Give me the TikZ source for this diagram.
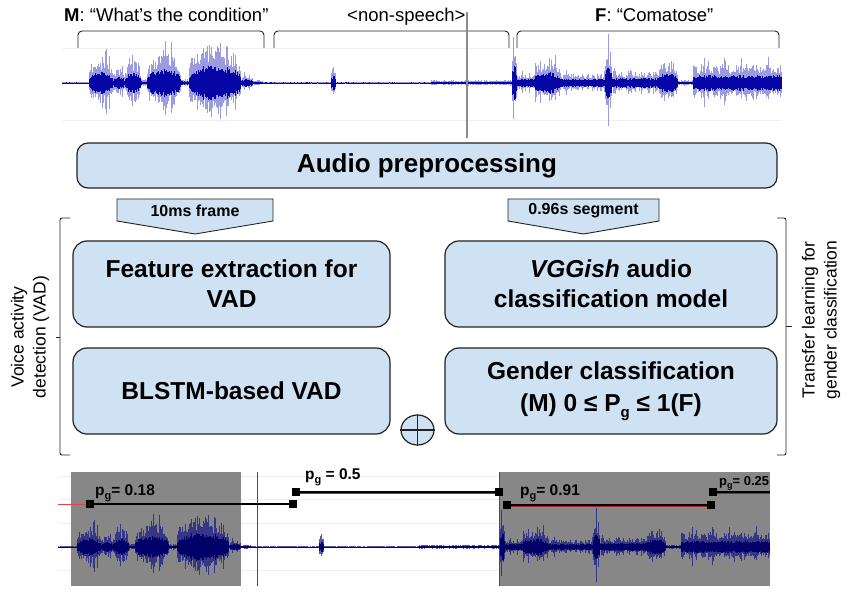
\documentclass[tikz,border=0pt]{standalone}
\usepackage{fontspec}
\setmainfont{Liberation Sans}
\usetikzlibrary{shapes.geometric}
\definecolor{boxblue}{HTML}{CFE2F3}
\definecolor{edgec}{HTML}{222222}
\definecolor{wavelight}{HTML}{4848C8}
\definecolor{wavedark}{HTML}{0606A6}
\definecolor{botlight}{HTML}{14148A}
\definecolor{botdark}{HTML}{000068}
\definecolor{grayfill}{HTML}{878787}
\definecolor{gridc}{HTML}{EFEFEF}
\definecolor{redc}{HTML}{E04545}
\definecolor{darkred}{HTML}{A02828}

\newcommand\fs[2]{\fontsize{#1}{#2}\selectfont}
\newcommand\subg[2]{\raisebox{-0.5ex}{\fontsize{#1}{#1}\selectfont #2}}

\newcommand\wavesegs{62/88/1.2/0, 89/112/20/1, 113/124/11/1, 125/140/19/1, 141/146/4/0, 147/180/24/1, 181/188/4/0, 189/240/32/1, 241/252/7/1, 253/262/3/0, 263/330/1.2/0, 331/335/13/1, 336/430/1.2/0, 431/497/2.8/0, 498/511/3/0, 512/516/30/1, 517/532/7/2, 533/560/19/1, 561/604/7/2, 605/611/30/1, 612/656/9/2, 657/677/18/1, 678/692/3/0, 693/781/14/2}

\newcommand\drawwave[2]{%
  \pgfmathsetseed{12345}%
  \foreach \a/\b/\amp/\spk in \wavesegs {%
    \foreach \x in {\a,...,\b} {%
      \pgfmathsetmacro\env{ifthenelse(\spk==1, 0.3+0.7*sqrt(sin(180/(\b-\a+1)*(\x-\a+0.5))), 1)*ifthenelse(\spk>0,1.3,1)}%
      \pgfmathsetmacro\u{\amp*\env*(0.45+0.55*rnd)*ifthenelse(and(\spk>0,rnd<0.2),1.45,1)}%
      \pgfmathsetmacro\v{\u*(0.6+0.4*rnd)}%
      \draw[#1] (\x,-\u) -- (\x,\v);%
      \pgfmathsetmacro\w{\amp*\env*0.45*(0.6+0.4*rnd)}%
      \draw[#2] (\x,-\w) -- (\x,\w);%
    }%
  }%
}

\tikzset{
  toplabel/.style={font=\fs{18.5}{22}, inner sep=0},
  bracket/.style={draw=edgec, line width=0.9pt, rounded corners=4pt},
  box/.style={draw=edgec, line width=1.2pt, fill=boxblue, rounded corners=14pt,
    align=center, font=\fs{24.5}{30}\bfseries, inner sep=0},
  audiobox/.style={box, rounded corners=11pt, font=\fs{26}{30}\bfseries},
  arrowshape/.style={draw=edgec, line width=0.9pt, fill=boxblue},
  arrowlabel/.style={font=\fs{16}{18}\bfseries, inner sep=0},
  sidelabel/.style={font=\fs{17.5}{22}, align=center, inner sep=0},
  sumnode/.style={draw=edgec, line width=1.2pt, fill=boxblue, ellipse, minimum width=33pt, minimum height=30pt, inner sep=0},
  sq/.style={fill=black, minimum size=8pt, inner sep=0},
  pline/.style={draw=black, line width=1.8pt},
  redline/.style={draw=redc, line width=1pt},
  redunder/.style={draw=darkred, line width=1pt},
  plabel/.style={font=\fs{15.5}{18}\bfseries, inner sep=0},
  wl/.style={draw=wavelight, line width=0.7pt, draw opacity=0.55},
  wd/.style={draw=wavedark, line width=0.9pt},
  bl/.style={draw=botlight, line width=0.7pt, draw opacity=0.7},
  bd/.style={draw=botdark, line width=0.9pt},
  gridl/.style={draw=gridc, line width=0.8pt},
}

\begin{document}
\begin{tikzpicture}[x=1pt,y=-1pt]
\useasboundingbox (0,0) rectangle (851,609);

% ---------- top labels and brackets
\node[toplabel, anchor=base west] (lm) at (64,22) {\textbf{M}: “What’s the condition”};
\node[toplabel, anchor=base west] (ln) at (347,22) {<non-speech>};
\node[toplabel, anchor=base west] (lf) at (595,22) {\textbf{F}: “Comatose”};
\draw[bracket] (78,48) -- (78,31) -- (264,31) -- (264,48);
\draw[bracket] (274,48) -- (274,31) -- (509,31) -- (509,48);
\draw[bracket] (517,48) -- (517,31) -- (779,31) -- (779,48);

% ---------- top waveform
\draw[gridl] (62,48) -- (781,48);
\draw[gridl] (62,120) -- (781,120);
\begin{scope}[shift={(0,83)}]
  \drawwave{wl}{wd}
\end{scope}
\coordinate (vt) at (467,12);
\coordinate (vb) at (467,138);
\draw[draw=gray!90, line width=1.1pt] (vt) -- (vb);

% ---------- audio preprocessing
\node[audiobox, minimum width=700pt, minimum height=45pt] (ap) at (427,165.5) {Audio preprocessing};

% ---------- arrows
\path[arrowshape] (117,199) -- (273,199) -- (273,221) -- (195,234) -- (117,221) -- cycle;
\node[arrowlabel] (f10) at (195,211) {10ms frame};
\path[arrowshape] (508,199) -- (659,199) -- (659,221) -- (583.5,234) -- (508,221) -- cycle;
\node[arrowlabel] (s096) at (583.5,211) {0.96s segment};

% ---------- boxes
\node[box, minimum width=317pt, minimum height=86pt] (fe) at (231.5,284) {Feature extraction for\\VAD};
\node[box, minimum width=332pt, minimum height=86pt] (vgg) at (611,284) {\textit{VGGish} audio\\classification model};
\node[box, minimum width=317pt, minimum height=86pt] (bl) at (231.5,391) {BLSTM-based VAD};
\node[box, minimum width=332pt, minimum height=86pt, font=\fs{24.5}{32}\bfseries] (gc) at (611,391) {Gender classification\\(M) 0 ≤ P\subg{15}{g} ≤ 1(F)};

% ---------- sum
\node[sumnode] (sum) at (417.5,430) {};
\draw[edgec, line width=1.1pt] (sum.north) -- (sum.south);
\draw[edgec, line width=1.1pt] (sum.west) -- (sum.east);

% ---------- side braces
\draw[bracket, rounded corners=2pt] (70,218) -- (60,218) -- (60,455) -- (70,455);
\draw[bracket] (60,337) -- (56,337);
\draw[bracket, rounded corners=2pt] (777,218) -- (786,218) -- (786,455) -- (777,455);
\draw[bracket] (786,326) -- (792,326);
\node[sidelabel, rotate=90] (vad) at (30,337) {Voice activity\\detection (VAD)};
\node[sidelabel, rotate=90] (tlg) at (821,320) {Transfer learning for\\gender classification};

% ---------- bottom
\foreach \gy in {476,499,523,570} { \draw[gridl] (58,\gy) -- (770,\gy); }
\fill[grayfill] (71,472) rectangle (241,586);
\fill[grayfill] (499,472) rectangle (770,586);
\draw[draw=gray!60!black, line width=0.8pt] (499,472) -- (499,586);
\draw[draw=gray!60!black, line width=1pt] (257,472) -- (257,586);
\begin{scope}
  \clip (58,460) rectangle (771,600);
  \begin{scope}[shift={(-12,547)}, yscale=0.8]
    \drawwave{bl}{bd}
  \end{scope}
\end{scope}

\coordinate (s1) at (58,504);
\node[sq] (m1a) at (90,504) {};
\node[sq] (m1b) at (293,504) {};
\node[sq] (m2a) at (296,492) {};
\node[sq] (m2b) at (499,492) {};
\node[sq] (m3a) at (507,505) {};
\node[sq] (m3b) at (711,505) {};
\node[sq] (m4a) at (713,492) {};
\coordinate (e4) at (770,492);

\draw[redline] (s1) -- (m1a);
\draw[pline] (m1a) -- (m1b);
\draw[redunder, transform canvas={yshift=-1.3pt}] (m2a) -- (m2b);
\draw[pline, line width=1.5pt] (m2a) -- (m2b);
\draw[redunder, transform canvas={yshift=-1.3pt}] (m3a) -- (m3b);
\draw[pline, line width=1.5pt] (m3a) -- (m3b);
\draw[redunder, transform canvas={yshift=-1.3pt}] (m4a) -- (e4);
\draw[pline, line width=1.5pt] (m4a) -- (e4);
\foreach \m in {m1a,m1b,m2a,m2b,m3a,m3b,m4a} { \node[sq] at (\m) {}; }

\node[plabel, anchor=base west] (p1) at (95,495) {p\subg{11}{g}= 0.18};
\node[plabel, anchor=base west] (p2) at (305,479) {p\subg{11}{g} = 0.5};
\node[plabel, anchor=base west] (p3) at (520,495) {p\subg{11}{g}= 0.91};
\node[plabel, anchor=base west, font=\fs{13}{15}\bfseries] (p4) at (719,485) {p\subg{9}{g}= 0.25};
\end{tikzpicture}
\end{document}
